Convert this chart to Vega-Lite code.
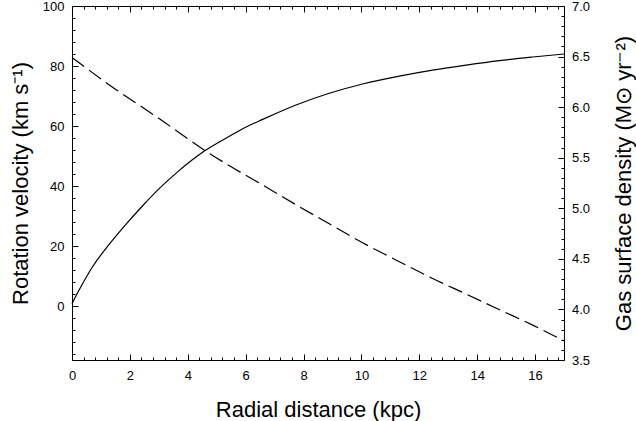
{
  "$schema": "https://vega.github.io/schema/vega-lite/v6.json",
  "width": 492,
  "height": 354,
  "autosize": {"type": "none"},
  "padding": {"left": 72, "top": 6, "right": 72, "bottom": 61},
  "background": "white",
  "config": {
    "font": "Liberation Sans",
    "view": {"stroke": null},
    "axis": {
      "domainColor": "black",
      "tickColor": "black",
      "labelColor": "black",
      "titleColor": "black",
      "labelFont": "Liberation Sans",
      "titleFont": "Liberation Sans",
      "labelFontSize": 13,
      "titleFontSize": 22,
      "titleFontWeight": "normal",
      "grid": false,
      "domainWidth": 1,
      "tickWidth": 1,
      "labelFlush": false,
      "labelOverlap": false
    }
  },
  "datasets": {
    "vel": [
      {"r": 0, "v": 0.8}, {"r": 0.25, "v": 5.4}, {"r": 0.71, "v": 13.1}, {"r": 1.29, "v": 20.6},
      {"r": 1.87, "v": 27.3}, {"r": 2.45, "v": 33.5}, {"r": 3.02, "v": 39.2}, {"r": 3.6, "v": 44.3},
      {"r": 4.17, "v": 48.8}, {"r": 4.6, "v": 51.8}, {"r": 5.44, "v": 56.6}, {"r": 6.0, "v": 59.6},
      {"r": 6.59, "v": 62.2}, {"r": 7.74, "v": 67.0}, {"r": 8.89, "v": 70.9}, {"r": 10.04, "v": 74.0},
      {"r": 11.31, "v": 76.6}, {"r": 12.46, "v": 78.6}, {"r": 13.62, "v": 80.3}, {"r": 14.77, "v": 81.8},
      {"r": 15.92, "v": 83.0}, {"r": 17, "v": 84.0}
    ],
    "gas": [
      {"r": 0, "d": 6.49}, {"r": 1.29, "d": 6.22}, {"r": 3.02, "d": 5.885}, {"r": 4.6, "d": 5.57},
      {"r": 5.44, "d": 5.42}, {"r": 6.59, "d": 5.23}, {"r": 7.74, "d": 5.035}, {"r": 8.89, "d": 4.847},
      {"r": 10.04, "d": 4.66}, {"r": 11.31, "d": 4.472}, {"r": 12.46, "d": 4.306}, {"r": 13.62, "d": 4.152},
      {"r": 14.77, "d": 3.997}, {"r": 15.92, "d": 3.845}, {"r": 17, "d": 3.689}
    ]
  },
  "layer": [
    {
      "data": {"name": "vel"},
      "mark": {"type": "line", "color": "black", "strokeWidth": 1.2, "interpolate": "monotone"},
      "encoding": {
        "x": {
          "field": "r", "type": "quantitative",
          "scale": {"domain": [0, 17], "nice": false, "zero": false},
          "axis": {
            "orient": "bottom",
            "title": "Radial distance (kpc)",
            "values": [0,0.4,0.8,1.2,1.6,2,2.4,2.8,3.2,3.6,4,4.4,4.8,5.2,5.6,6,6.4,6.8,7.2,7.6,8,8.4,8.8,9.2,9.6,10,10.4,10.8,11.2,11.6,12,12.4,12.8,13.2,13.6,14,14.4,14.8,15.2,15.6,16,16.4,16.8],
            "tickCount": 200,
            "tickMinStep": 0.1,
            "labelExpr": "datum.value % 2 === 0 ? '' + datum.value : ''",
            "labelOverlap": false,
            "labelFlush": false,
            "tickSize": {"condition": {"test": "datum.value % 2 === 0", "value": -6}, "value": -3},
            "labelPadding": 15,
            "titleY": 56,
            "titleBaseline": "alphabetic"
          }
        },
        "y": {
          "field": "v", "type": "quantitative",
          "scale": {"domain": [-18, 100], "nice": false, "zero": false},
          "axis": {
            "orient": "left",
            "title": "Rotation velocity (km s⁻¹)",
            "values": [-16,-12,-8,-4,0,4,8,12,16,20,24,28,32,36,40,44,48,52,56,60,64,68,72,76,80,84,88,92,96,100],
            "tickCount": 200,
            "tickMinStep": 0.1,
            "labelExpr": "datum.value % 20 === 0 ? '' + datum.value : ''",
            "labelOverlap": false,
            "tickSize": {"condition": {"test": "datum.value % 20 === 0", "value": -6}, "value": -3},
            "labelPadding": 14,
            "titleX": -45,
            "titleY": 177,
            "titleAngle": 270,
            "titleBaseline": "alphabetic"
          }
        }
      }
    },
    {
      "data": {"name": "gas"},
      "mark": {"type": "line", "color": "black", "strokeWidth": 1.2, "strokeDash": [15, 6], "interpolate": "monotone"},
      "encoding": {
        "x": {
          "field": "r", "type": "quantitative",
          "scale": {"domain": [0, 17], "nice": false, "zero": false},
          "axis": {
            "orient": "top",
            "title": null,
            "labels": false,
            "values": [0,0.4,0.8,1.2,1.6,2,2.4,2.8,3.2,3.6,4,4.4,4.8,5.2,5.6,6,6.4,6.8,7.2,7.6,8,8.4,8.8,9.2,9.6,10,10.4,10.8,11.2,11.6,12,12.4,12.8,13.2,13.6,14,14.4,14.8,15.2,15.6,16,16.4,16.8],
            "tickCount": 200,
            "tickMinStep": 0.1,
            "tickSize": {"condition": {"test": "datum.value % 2 === 0", "value": -6}, "value": -3}
          }
        },
        "y": {
          "field": "d", "type": "quantitative",
          "scale": {"domain": [3.5, 7], "nice": false, "zero": false},
          "axis": {
            "orient": "right",
            "title": "Gas surface density (M⊙ yr⁻²)",
            "values": [3.5,3.6,3.7,3.8,3.9,4.0,4.1,4.2,4.3,4.4,4.5,4.6,4.7,4.8,4.9,5.0,5.1,5.2,5.3,5.4,5.5,5.6,5.7,5.8,5.9,6.0,6.1,6.2,6.3,6.4,6.5,6.6,6.7,6.8,6.9,7.0],
            "tickCount": 200,
            "tickMinStep": 0.01,
            "format": ".1f",
            "labelExpr": "abs(datum.value * 2 - round(datum.value * 2)) < 0.001 ? datum.label : ''",
            "labelOverlap": false,
            "tickSize": {"condition": {"test": "abs(datum.value * 2 - round(datum.value * 2)) < 0.001", "value": -6}, "value": -3},
            "labelPadding": 13.5,
            "titleX": 66,
            "titleY": 177,
            "titleAngle": 270,
            "titleBaseline": "alphabetic"
          }
        }
      }
    }
  ],
  "resolve": {"scale": {"y": "independent"}, "axis": {"x": "independent"}}
}
